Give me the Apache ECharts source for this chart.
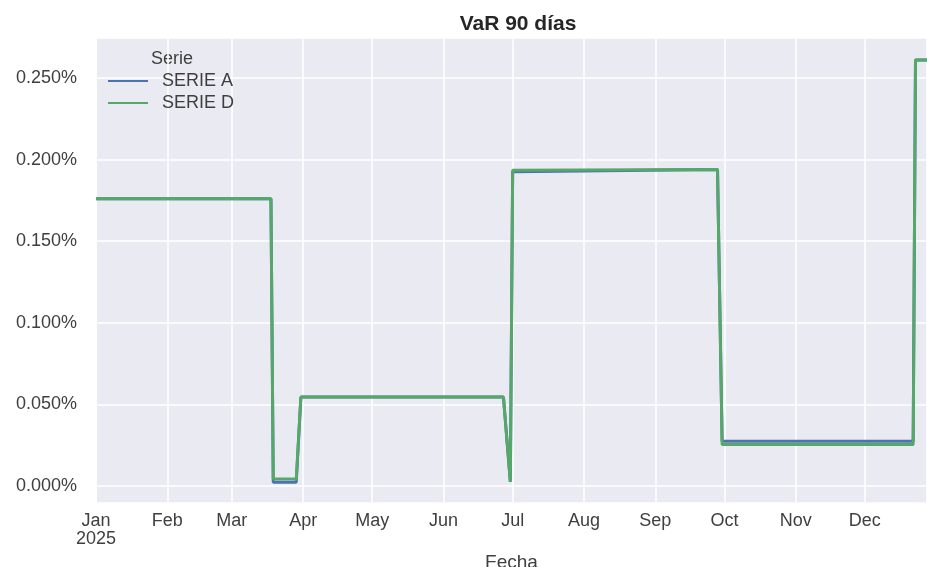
<!DOCTYPE html>
<html>
<head>
<meta charset="utf-8">
<script src="https://cdn.jsdelivr.net/npm/echarts@6/dist/echarts.min.js"></script>
<style>
  html, body { margin: 0; padding: 0; background: #fff; }
  #chart { width: 927px; height: 567px; }
</style>
</head>
<body>
<div id="chart"></div>
<script>
// fechas de los cambios de nivel (serie escalonada)
const fechas = ['2025-01-01', '2025-03-18', '2025-03-19', '2025-03-29', '2025-03-31', '2025-06-27',
  '2025-06-30', '2025-07-01', '2025-09-28', '2025-09-30', '2025-12-22', '2025-12-23', '2025-12-28'];
// VaR en %
const serieA = [0.176, 0.176, 0.0023, 0.0023, 0.0545, 0.0545, 0.0025, 0.1925, 0.194, 0.0275, 0.0275, 0.261, 0.261];
const serieD = [0.176, 0.176, 0.0043, 0.0043, 0.0545, 0.0545, 0.0025, 0.1935, 0.194, 0.0255, 0.0255, 0.261, 0.261];
const meses = ['Jan', 'Feb', 'Mar', 'Apr', 'May', 'Jun', 'Jul', 'Aug', 'Sep', 'Oct', 'Nov', 'Dec'];

const FONT = 'Liberation Sans, Arial, sans-serif';
const TXT = '#3f3f3f';

const chart = echarts.init(document.getElementById('chart'));

chart.setOption({
  animation: false,
  title: {
    text: 'VaR 90 días',
    left: 513,
    top: 9,
    textAlign: 'center',
    textStyle: { fontFamily: FONT, fontSize: 21, fontWeight: 'bold', color: '#262626' },
  },
  legend: {
    orient: 'vertical',
    left: 103,
    top: 66,
    icon: 'rect',
    itemWidth: 40,
    itemHeight: 2,
    itemGap: 2,
    textStyle: { fontFamily: FONT, fontSize: 18, lineHeight: 20, color: TXT, padding: [0, 0, 0, 9] },
    data: ['SERIE A', 'SERIE D'],
  },
  graphic: [
    {
      type: 'text',
      left: 151,
      top: 50,
      style: { text: 'Serie', fontFamily: FONT, fontSize: 18, fill: TXT },
    },
  ],
  grid: {
    left: 96,
    right: 0,
    top: 38,
    bottom: 64,
    outerBoundsMode: 'none',
    show: true,
    backgroundColor: '#EAEAF2',
    borderWidth: 0,
  },
  xAxis: {
    type: 'time',
    min: '2025-01-01',
    max: '2025-12-28',
    minInterval: 28 * 86400000,
    maxInterval: 31 * 86400000,
    name: 'Fecha',
    nameLocation: 'middle',
    nameGap: 43,
    nameTextStyle: { fontFamily: FONT, fontSize: 19, color: TXT },
    axisLine: { show: false },
    axisTick: { show: false },
    axisLabel: {
      fontFamily: FONT,
      fontSize: 18,
      color: TXT,
      margin: 9,
      lineHeight: 18,
      formatter: (v) => {
        const d = new Date(v);
        const m = meses[d.getMonth()];
        return d.getMonth() === 0 ? m + '\n' + d.getFullYear() : m;
      },
    },
    splitLine: { show: true, lineStyle: { color: '#fff', width: 1.5 } },
  },
  yAxis: {
    type: 'value',
    min: -0.0104,
    max: 0.2745,
    splitNumber: 5,
    axisLine: { show: false },
    axisTick: { show: false },
    axisLabel: {
      fontFamily: FONT,
      fontSize: 18,
      color: TXT,
      margin: 19,
      showMinLabel: false,
      showMaxLabel: false,
      formatter: (v) => v.toFixed(3) + '%',
    },
    splitLine: { show: true, lineStyle: { color: '#fff', width: 1.5 } },
  },
  series: [
    {
      name: 'SERIE A',
      type: 'line',
      data: fechas.map((f, i) => [f, serieA[i]]),
      showSymbol: false,
      color: '#4C72B0',
      lineStyle: { width: 3 },
    },
    {
      name: 'SERIE D',
      type: 'line',
      data: fechas.map((f, i) => [f, serieD[i]]),
      showSymbol: false,
      color: '#55A868',
      lineStyle: { width: 3 },
    },
  ],
});
</script>
</body>
</html>
